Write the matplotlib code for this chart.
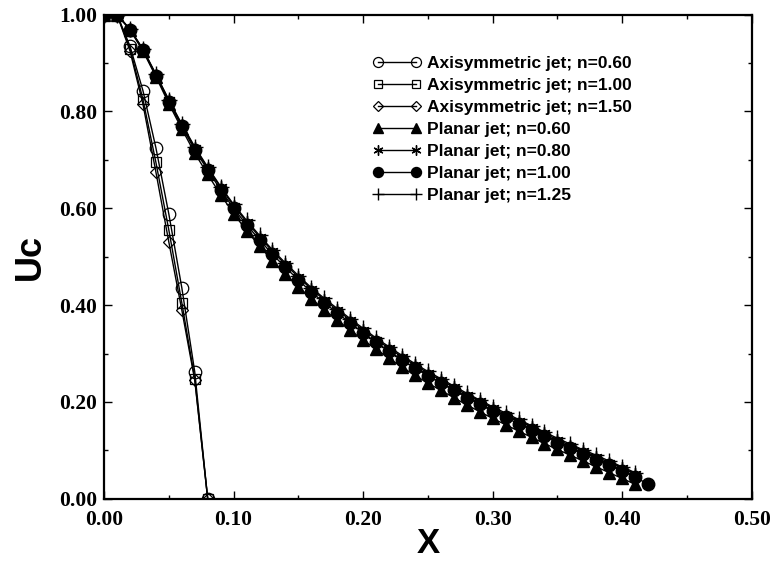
import matplotlib
matplotlib.use("Agg")
import matplotlib.pyplot as plt
from matplotlib.ticker import MultipleLocator, FormatStrFormatter

# centreline velocity decay, axisymmetric jets (x = 0 .. 0.08)
x_axi = [0.00, 0.01, 0.02, 0.03, 0.04, 0.05, 0.06, 0.07, 0.08]
uc_axi_060 = [1.000, 1.000, 0.935, 0.843, 0.725, 0.588, 0.436, 0.262, 0.000]
uc_axi_100 = [1.000, 1.000, 0.930, 0.825, 0.695, 0.555, 0.405, 0.248, 0.000]
uc_axi_150 = [1.000, 1.000, 0.925, 0.815, 0.675, 0.530, 0.390, 0.245, 0.000]

# planar jets (x = 0 .. 0.42)
x_pl = [round(0.01 * i, 2) for i in range(43)]
uc_pl_100 = [1.000, 1.000, 0.969, 0.927, 0.874, 0.820, 0.769, 0.721, 0.679, 0.638,
             0.600, 0.566, 0.535, 0.505, 0.478, 0.452, 0.427, 0.405, 0.384, 0.363,
             0.343, 0.323, 0.305, 0.287, 0.270, 0.254, 0.239, 0.224, 0.209, 0.195,
             0.181, 0.168, 0.155, 0.142, 0.129, 0.116, 0.104, 0.092, 0.081, 0.069,
             0.057, 0.045, 0.030]
uc_pl_060 = [1.000, 1.000, 0.969, 0.925, 0.872, 0.816, 0.764, 0.714, 0.670, 0.628,
             0.589, 0.554, 0.522, 0.492, 0.464, 0.438, 0.413, 0.390, 0.369, 0.348,
             0.328, 0.309, 0.290, 0.272, 0.255, 0.239, 0.224, 0.209, 0.194, 0.180,
             0.166, 0.153, 0.140, 0.127, 0.114, 0.102, 0.090, 0.078, 0.066, 0.054,
             0.042, 0.030]
uc_pl_080 = [1.000, 1.000, 0.970, 0.928, 0.876, 0.823, 0.772, 0.725, 0.683, 0.643,
             0.605, 0.572, 0.541, 0.511, 0.484, 0.458, 0.433, 0.411, 0.390, 0.369,
             0.349, 0.329, 0.311, 0.293, 0.276, 0.260, 0.245, 0.230, 0.215, 0.201,
             0.187, 0.174, 0.161, 0.148, 0.135, 0.122, 0.110, 0.098, 0.087, 0.075,
             0.063, 0.051]
uc_pl_125 = [1.000, 1.000, 0.970, 0.929, 0.877, 0.824, 0.774, 0.727, 0.685, 0.645,
             0.608, 0.575, 0.544, 0.514, 0.487, 0.461, 0.436, 0.414, 0.393, 0.372,
             0.352, 0.332, 0.314, 0.296, 0.279, 0.263, 0.248, 0.233, 0.218, 0.204,
             0.190, 0.177, 0.164, 0.151, 0.138, 0.125, 0.113, 0.101, 0.090, 0.078,
             0.066, 0.054]

fig = plt.figure(figsize=(7.71, 5.63), dpi=100)
ax = fig.add_axes([0.135, 0.114, 0.840, 0.860])

lw = 1.0
ax.plot(x_axi, uc_axi_060, "-", color="black", lw=lw, marker="o", ms=9,
        mfc="none", mec="black", mew=0.9, label="Axisymmetric jet; n=0.60")
ax.plot(x_axi, uc_axi_100, "-", color="black", lw=lw, marker="s", ms=7.5,
        mfc="none", mec="black", mew=0.9, label="Axisymmetric jet; n=1.00")
ax.plot(x_axi, uc_axi_150, "-", color="black", lw=lw, marker="D", ms=6.5,
        mfc="none", mec="black", mew=0.9, label="Axisymmetric jet; n=1.50")
ax.plot(x_pl[:len(uc_pl_060)], uc_pl_060, "-", color="black", lw=lw, marker="^",
        ms=9, mfc="black", mec="black", label="Planar jet; n=0.60")
ax.plot(x_pl[:len(uc_pl_080)], uc_pl_080, "-", color="black", lw=lw,
        marker=(6, 2, 0), ms=9, mec="black", mew=1.0, label="Planar jet; n=0.80")
ax.plot(x_pl, uc_pl_100, "-", color="black", lw=lw, marker="o", ms=9,
        mfc="black", mec="black", label="Planar jet; n=1.00")
ax.plot(x_pl[:len(uc_pl_125)], uc_pl_125, "-", color="black", lw=lw, marker="+",
        ms=11, mec="black", mew=1.0, label="Planar jet; n=1.25")

ax.set_xlim(0, 0.5)
ax.set_ylim(0, 1.0)
ax.xaxis.set_major_locator(MultipleLocator(0.1))
ax.xaxis.set_minor_locator(MultipleLocator(0.05))
ax.yaxis.set_major_locator(MultipleLocator(0.2))
ax.yaxis.set_minor_locator(MultipleLocator(0.1))
ax.xaxis.set_major_formatter(FormatStrFormatter("%.2f"))
ax.yaxis.set_major_formatter(FormatStrFormatter("%.2f"))
ax.tick_params(which="both", direction="in", top=True, right=True, width=1.0)
ax.tick_params(which="major", length=6)
ax.tick_params(which="minor", length=3)
for lbl in ax.get_xticklabels() + ax.get_yticklabels():
    lbl.set_fontfamily("Liberation Serif")
    lbl.set_fontweight("bold")
    lbl.set_fontsize(15.5)
ax.tick_params(axis="x", pad=8)
ax.tick_params(axis="y", pad=5)
for sp in ax.spines.values():
    sp.set_linewidth(1.6)

ax.set_xlabel("X", fontfamily="Liberation Sans", fontweight="bold",
              fontsize=25, labelpad=-2)
ax.set_ylabel("Uc", fontfamily="Liberation Sans", fontweight="bold",
              fontsize=26, labelpad=8)

ax.legend(loc="upper left", bbox_to_anchor=(0.402, 0.933), frameon=False,
          numpoints=2, markerscale=0.8, handlelength=2.75, handletextpad=0.35,
          labelspacing=0.4, borderpad=0,
          prop={"family": "Liberation Sans", "weight": "bold", "size": 12.5})

fig.savefig("out.png", dpi=100)
